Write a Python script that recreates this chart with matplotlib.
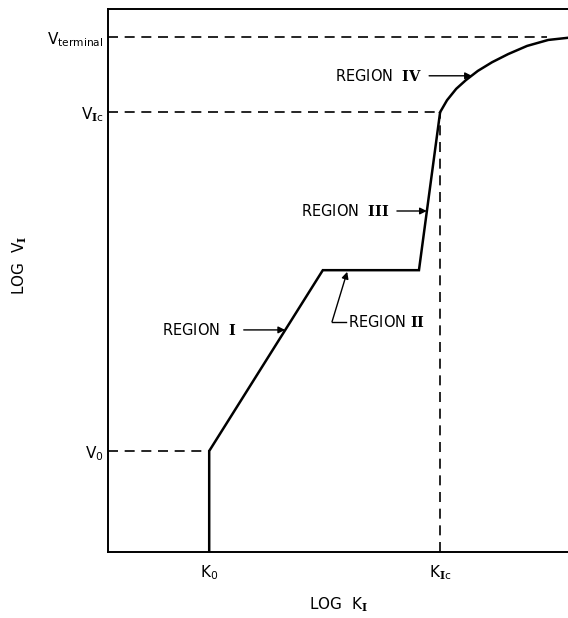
import matplotlib
matplotlib.use("Agg")
import matplotlib.pyplot as plt

plt.rcParams['font.family'] = ['DejaVu Sans']
plt.rcParams['mathtext.default'] = 'regular'
plt.rcParams['mathtext.fontset'] = 'custom'
plt.rcParams['mathtext.rm'] = 'DejaVu Serif:bold'

# Characteristic values (log units, arbitrary scale)
K0 = 2.2
K_plateau_start = 4.67
K_plateau_end = 6.76
K_Ic = 7.22
V0 = 1.86
V_plateau = 5.19
V_Ic = 8.10
V_terminal = 9.48

# Region IV curve points
curve_x = [7.22, 7.37, 7.57, 7.78, 8.04, 8.35, 8.70, 9.11, 9.57, 10.0]
curve_y = [8.10, 8.32, 8.53, 8.69, 8.86, 9.02, 9.17, 9.32, 9.43, 9.47]

# Main path regions I-III
path_x = [K0, K0, K_plateau_start, K_plateau_end, K_Ic]
path_y = [0.0, V0, V_plateau, V_plateau, V_Ic]

ytick_pos = [V0, V_Ic, V_terminal]
ytick_labels = ['$V_0$', '$V_{\\mathrm{I}c}$', '$V_{terminal}$']
xtick_pos = [K0, K_Ic]
xtick_labels = ['$K_0$', '$K_{\\mathrm{I}c}$']

fig = plt.figure(figsize=(5.68, 6.18), dpi=100)
ax = fig.add_axes([108/568, 1-552/618, 1-108/568, (552-9)/618])
ax.set_xlim(0, 10)
ax.set_ylim(0, 10)

lw = 1.8
ax.plot(path_x, path_y, color='black', lw=lw, solid_capstyle='butt',
        solid_joinstyle='miter')
ax.plot(curve_x, curve_y, color='black', lw=lw, solid_joinstyle='round')

dash = dict(color='black', lw=1.2, dashes=(6, 4))
ax.plot([0, K0], [V0, V0], **dash)
ax.plot([0, K_Ic], [V_Ic, V_Ic], **dash)
ax.plot([0, 9.55], [V_terminal, V_terminal], **dash)
ax.plot([K_Ic, K_Ic], [0, V_Ic], **dash)

for s in ['left', 'bottom', 'top']:
    ax.spines[s].set_linewidth(1.4)
ax.spines['right'].set_visible(False)

ax.set_yticks(ytick_pos)
ax.set_yticklabels(ytick_labels, fontsize=11)
ax.set_xticks(xtick_pos)
ax.set_xticklabels(xtick_labels, fontsize=11)
ax.tick_params(axis='both', length=0)
ax.tick_params(axis='x', pad=8)
ax.tick_params(axis='y', pad=3)

ax.set_xlabel('LOG  $K_{\\mathrm{I}}$', fontsize=11, labelpad=10)
fig.text(20/568, 1-265/618, 'LOG  $V_{\\mathrm{I}}$', rotation=90, fontsize=11,
         ha='center', va='center')

arrow = dict(arrowstyle='-|>', color='black', lw=1.0, mutation_scale=10,
             shrinkA=3, shrinkB=0)
fs = 10.5
ax.annotate('REGION  $\\mathrm{IV}$', xy=(7.91, 8.77), xytext=(6.83, 8.77),
            ha='right', va='center', fontsize=fs, arrowprops=arrow)
ax.annotate('REGION  $\\mathrm{III}$', xy=(6.93, 6.28), xytext=(6.13, 6.28),
            ha='right', va='center', fontsize=fs, arrowprops=arrow)
ax.annotate('REGION  $\\mathrm{I}$', xy=(3.85, 4.09), xytext=(2.80, 4.09),
            ha='right', va='center', fontsize=fs, arrowprops=arrow)
ax.text(5.22, 4.24, 'REGION $\\mathrm{II}$', ha='left', va='center', fontsize=fs)
ax.plot([4.87, 5.17], [4.24, 4.24], color='black', lw=1.0)
ax.annotate('', xy=(5.20, 5.16), xytext=(4.87, 4.24),
            arrowprops=dict(arrowstyle='-|>', color='black', lw=1.0,
                            mutation_scale=10, shrinkA=0, shrinkB=0))

fig.savefig('out.png', dpi=100)
